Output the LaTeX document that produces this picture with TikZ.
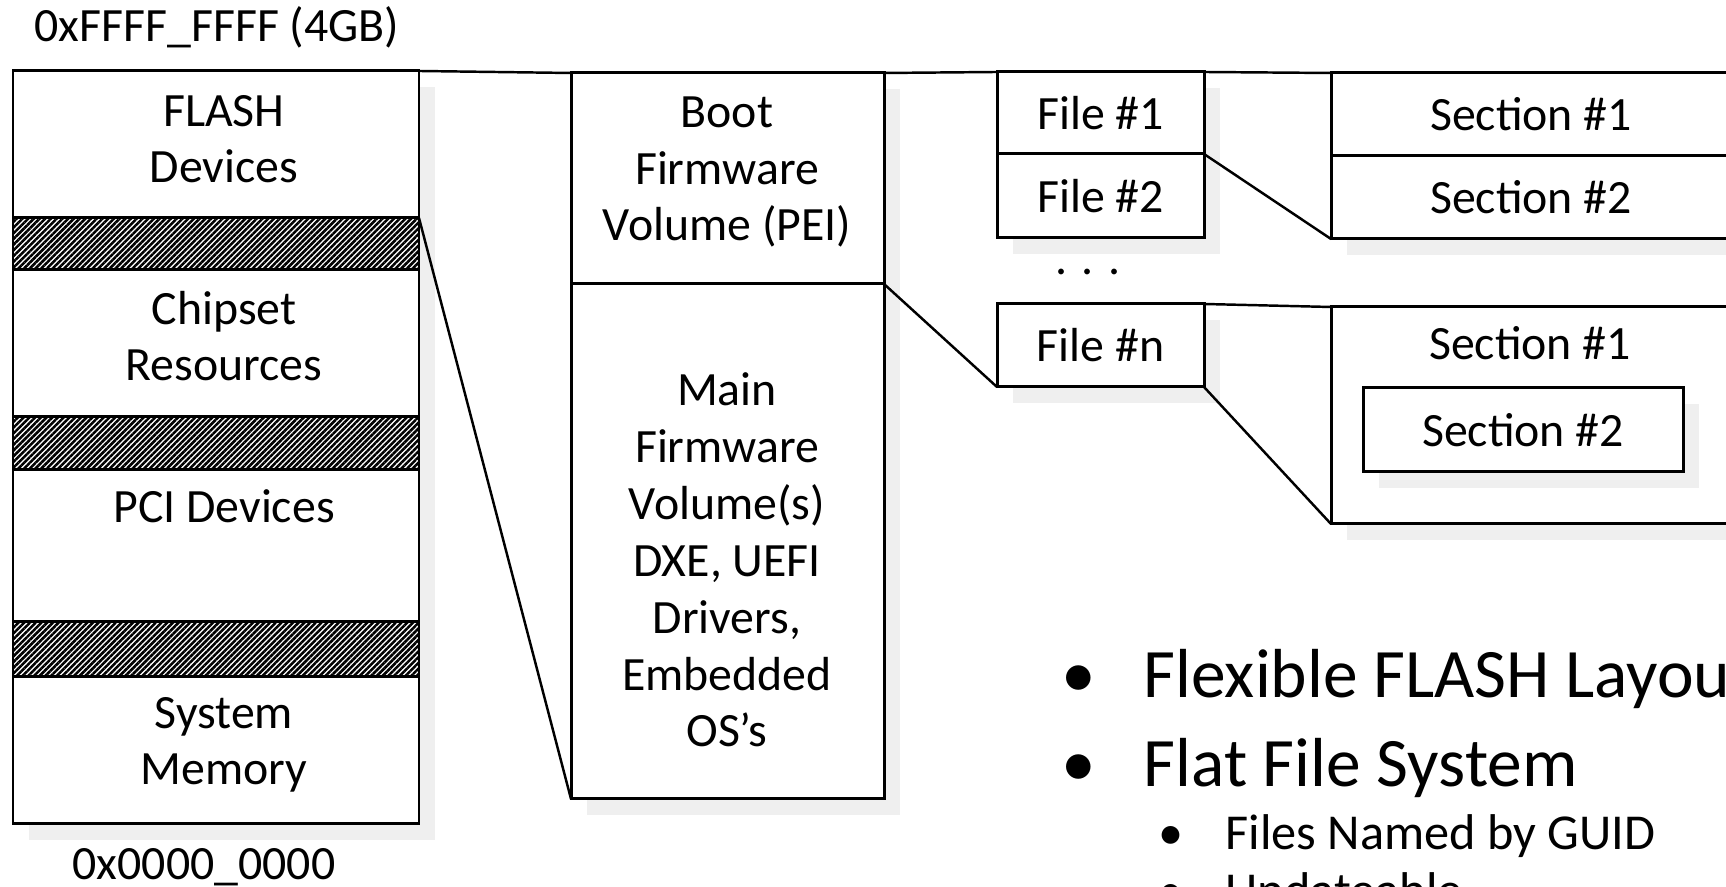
\documentclass[tikz,border=0pt]{standalone}
\usepackage{fontspec}
\setmainfont{Carlito}
\usetikzlibrary{positioning,shadows,patterns.meta}

\definecolor{shadowgray}{RGB}{239,239,239}

\tikzset{
  seg/.style={draw, fill=white, line width=0.85pt, inner sep=0pt, outer sep=0pt,
    anchor=north west, drop shadow={shadow xshift=0.16cm, shadow yshift=-0.16cm,
      fill=shadowgray, opacity=1}},
  hatched/.style={seg, preaction={fill=white},
    pattern={Lines[angle=45, distance=1.15pt, line width=0.72pt]}},
  link/.style={line width=0.7pt},
  txt/.style={align=center, anchor=base},
  big/.style={font=\fontsize{19.75}{23}\selectfont},
  small/.style={font=\fontsize{14.3}{17}\selectfont},
}

\begin{document}
\begin{tikzpicture}[inner sep=0pt, font=\fontsize{13.6}{16.2}\selectfont]
  \path[use as bounding box, clip] (0,0) rectangle (17.26,8.87);

  % address map (base of a stacked label = its last line)
  \node[txt] (top) at (2.17,8.45) {0xFFFF\_FFFF (4GB)};
  \node[seg, minimum width=4.06cm, minimum height=1.47cm] (flash) at (0.13,8.16) {};
  \node[hatched, minimum width=4.06cm, minimum height=0.52cm, below=0pt of flash] (gap1) {};
  \node[seg, minimum width=4.06cm, minimum height=1.47cm, below=0pt of gap1] (chipset) {};
  \node[hatched, minimum width=4.06cm, minimum height=0.53cm, below=0pt of chipset] (gap2) {};
  \node[seg, minimum width=4.06cm, minimum height=1.52cm, below=0pt of gap2] (pci) {};
  \node[hatched, minimum width=4.06cm, minimum height=0.55cm, below=0pt of pci] (gap3) {};
  \node[seg, minimum width=4.06cm, minimum height=1.47cm, below=0pt of gap3] (mem) {};
  \node[txt] (bottom) at (2.04,0.07) {0x0000\_0000};

  \node[txt] (flashtxt) at (2.24,7.04) {FLASH\\Devices};
  \node[txt] (chiptxt) at (2.24,5.06) {Chipset\\Resources};
  \node[txt] (pcitxt) at (2.24,3.64) {PCI Devices};
  \node[txt] (memtxt) at (2.24,1.02) {System\\Memory};

  % firmware volumes
  \node[seg, minimum width=3.13cm, minimum height=2.11cm] (bootfv) at (5.71,8.14) {};
  \node[seg, minimum width=3.13cm, minimum height=5.15cm, below=0pt of bootfv] (mainfv) {};
  \node[txt] (boottxt) at (7.27,6.46) {Boot\\Firmware\\Volume (PEI)};
  \node[txt] (maintxt) at (7.27,1.40) {Main\\Firmware\\Volume(s)\\DXE, UEFI\\Drivers,\\Embedded\\OS’s};

  % files
  \node[seg, minimum width=2.07cm, minimum height=0.82cm] (file1) at (9.97,8.15) {File \#1};
  \node[seg, minimum width=2.07cm, minimum height=0.84cm, below=0pt of file1] (file2) {File \#2};
  \node[txt] (dots) at (10.88,6.12) {. . .};
  \node[seg, minimum width=2.07cm, minimum height=0.83cm] (filen) at (9.97,5.83) {File \#n};

  % sections
  \node[seg, minimum width=4cm, minimum height=0.83cm] (sec1) at (13.31,8.14) {Section \#1};
  \node[seg, minimum width=4cm, minimum height=0.83cm, below=0pt of sec1] (sec2) {Section \#2};
  \node[seg, minimum width=4cm, minimum height=2.17cm] (secbox) at (13.31,5.80) {};
  \node[txt] (secboxtxt) at (15.30,5.27) {Section \#1};
  \node[seg, minimum width=3.20cm, minimum height=0.84cm] (secin) at (13.63,4.99) {Section \#2};

  % zoom lines
  \draw[link] (flash.north east) -- (bootfv.north west);
  \draw[link] (flash.south east) -- (mainfv.south west);
  \draw[link] (bootfv.north east) -- (file1.north west);
  \draw[link] (bootfv.south east) -- (filen.south west);
  \draw[link] (file1.north east) -- (sec1.north west);
  \draw[link] (file1.south east) -- (sec2.south west);
  \draw[link] (filen.north east) -- (secbox.north west);
  \draw[link] (filen.south east) -- (secbox.south west);

  % notes
  \node[big, anchor=base] (dot1) at (10.79,1.89) {•};
  \node[big, anchor=base west] (note1) at (11.43,1.89) {Flexible FLASH Layout};
  \node[big, anchor=base] (dot2) at (10.79,1.00) {•};
  \node[big, anchor=base west] (note2) at (11.43,1.00) {Flat File System};
  \node[small, anchor=base] (dot3) at (11.71,0.37) {•};
  \node[small, anchor=base west] (note3) at (12.25,0.37) {Files Named by GUID};
  \node[small, anchor=base] (dot4) at (11.71,-0.21) {•};
  \node[small, anchor=base west] (note4) at (12.25,-0.21) {Updateable};
\end{tikzpicture}
\end{document}
